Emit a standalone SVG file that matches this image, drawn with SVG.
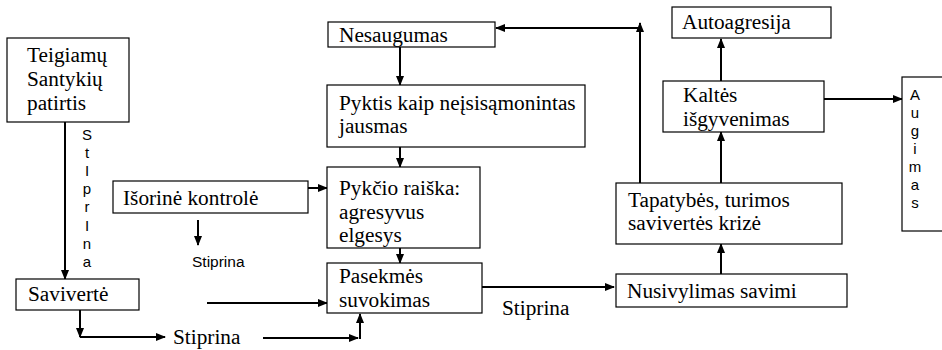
<svg xmlns="http://www.w3.org/2000/svg" width="942" height="350" viewBox="0 0 942 350">
<style>
.box{fill:#fff;stroke:#000;stroke-width:1.2}
.t{font-size:21.3px;fill:#000}
.s{fill:#000}
.c{fill:none;stroke:#000;stroke-width:2}
</style>
<defs>
<marker id="ah" markerUnits="userSpaceOnUse" markerWidth="10" markerHeight="8" refX="9" refY="4" orient="auto">
<path d="M0,0 L10,4 L0,8 Z" fill="#000"/>
</marker>
</defs>
<rect width="942" height="350" fill="#fff"/>
<g id="connectors">
<line class="c" x1="65" y1="122" x2="65" y2="279" marker-end="url(#ah)"/>
<line class="c" x1="80" y1="310" x2="80" y2="337" marker-end="url(#ah)"/>
<line class="c" x1="80" y1="337" x2="165" y2="337" marker-end="url(#ah)" stroke-width="1.6"/>
<line class="c" x1="263" y1="338" x2="358" y2="338" marker-end="url(#ah)" stroke-width="1.6"/>
<line class="c" x1="360" y1="339" x2="360" y2="314" marker-end="url(#ah)"/>
<line class="c" x1="207" y1="303" x2="327" y2="303" marker-end="url(#ah)" stroke-width="1.6"/>
<line class="c" x1="308" y1="188" x2="327" y2="188" marker-end="url(#ah)"/>
<line class="c" x1="198" y1="220" x2="198" y2="245" marker-end="url(#ah)"/>
<line class="c" x1="400" y1="47" x2="400" y2="85" marker-end="url(#ah)"/>
<line class="c" x1="400" y1="147" x2="400" y2="167" marker-end="url(#ah)"/>
<line class="c" x1="400" y1="248" x2="400" y2="263" marker-end="url(#ah)"/>
<line class="c" x1="482" y1="287" x2="614" y2="287" marker-end="url(#ah)" stroke-width="1.6"/>
<line class="c" x1="721" y1="274" x2="721" y2="244" marker-end="url(#ah)"/>
<line class="c" x1="721" y1="183" x2="721" y2="132" marker-end="url(#ah)"/>
<line class="c" x1="721" y1="81" x2="721" y2="39" marker-end="url(#ah)"/>
<line class="c" x1="823" y1="99" x2="902" y2="99" marker-end="url(#ah)" stroke-width="1.6"/>
<line class="c" x1="640" y1="183" x2="640" y2="23" marker-end="url(#ah)"/>
<line class="c" x1="641" y1="28" x2="496" y2="28" marker-end="url(#ah)" stroke-width="1.6"/>
</g>
<g font-family="'Liberation Serif', 'DejaVu Serif', serif">
<g id="teigiamu">
<rect class="box" x="7" y="38" width="122" height="84"/>
<text class="t" x="27" y="62">Teigiamų</text>
<text class="t" x="27" y="86">Santykių</text>
<text class="t" x="27" y="110">patirtis</text>
</g>
<g id="saviverte">
<rect class="box" x="16" y="279" width="123" height="31"/>
<text class="t" x="28" y="301">Savivertė</text>
</g>
<g id="label-stiprina-bottom">
<text class="t" x="173" y="344">Stiprina</text>
</g>
<g id="isorine">
<rect class="box" x="113" y="181" width="195" height="32"/>
<text class="t" x="123" y="205">Išorinė kontrolė</text>
</g>
<g id="nesaugumas">
<rect class="box" x="328" y="22" width="167" height="25"/>
<text class="t" x="339" y="42">Nesaugumas</text>
</g>
<g id="pyktis">
<rect class="box" x="327" y="85" width="258" height="62"/>
<text class="t" x="339" y="110">Pyktis kaip neįsisąmonintas</text>
<text class="t" x="339" y="133">jausmas</text>
</g>
<g id="pykcio">
<rect class="box" x="327" y="167" width="153" height="81"/>
<text class="t" x="339" y="195">Pykčio raiška:</text>
<text class="t" x="339" y="218.5">agresyvus</text>
<text class="t" x="339" y="242">elgesys</text>
</g>
<g id="pasekmes">
<rect class="box" x="327" y="263" width="155" height="50"/>
<text class="t" x="339" y="283">Pasekmės</text>
<text class="t" x="339" y="307">suvokimas</text>
</g>
<g id="label-stiprina-mid">
<text class="t" x="502" y="315">Stiprina</text>
</g>
<g id="nusivylimas">
<rect class="box" x="616" y="274" width="231" height="33"/>
<text class="t" x="627" y="298">Nusivylimas savimi</text>
</g>
<g id="tapatybes">
<rect class="box" x="616" y="183" width="226" height="61"/>
<text class="t" x="628" y="207">Tapatybės, turimos</text>
<text class="t" x="628" y="230">savivertės krizė</text>
</g>
<g id="kaltes">
<rect class="box" x="663" y="81" width="161" height="51"/>
<text class="t" x="683" y="102">Kaltės</text>
<text class="t" x="683" y="126">išgyvenimas</text>
</g>
<g id="autoagresija">
<rect class="box" x="672" y="7" width="159" height="31"/>
<text class="t" x="682" y="29">Autoagresija</text>
</g>
</g>
<g font-family="'Liberation Sans', Arial, sans-serif">
<g id="label-stiprina-vertical" class="s" font-size="15" text-anchor="middle">
<text x="87" y="140">S</text>
<text x="87" y="158">t</text>
<text x="87" y="176">I</text>
<text x="87" y="194">p</text>
<text x="87" y="212">r</text>
<text x="87" y="231">I</text>
<text x="87" y="249">n</text>
<text x="87" y="267">a</text>
</g>
<g id="label-stiprina-small">
<text class="s" font-size="15.5" x="192" y="267">Stiprina</text>
</g>
<g id="augimas">
<rect class="box" x="902" y="77" width="60" height="154"/>
<g class="s" font-size="15" text-anchor="middle">
<text x="915" y="100">A</text>
<text x="915" y="118">u</text>
<text x="915" y="136">g</text>
<text x="915" y="154">i</text>
<text x="915" y="172">m</text>
<text x="915" y="190">a</text>
<text x="915" y="208">s</text>
</g>
</g>
</g>
</svg>
